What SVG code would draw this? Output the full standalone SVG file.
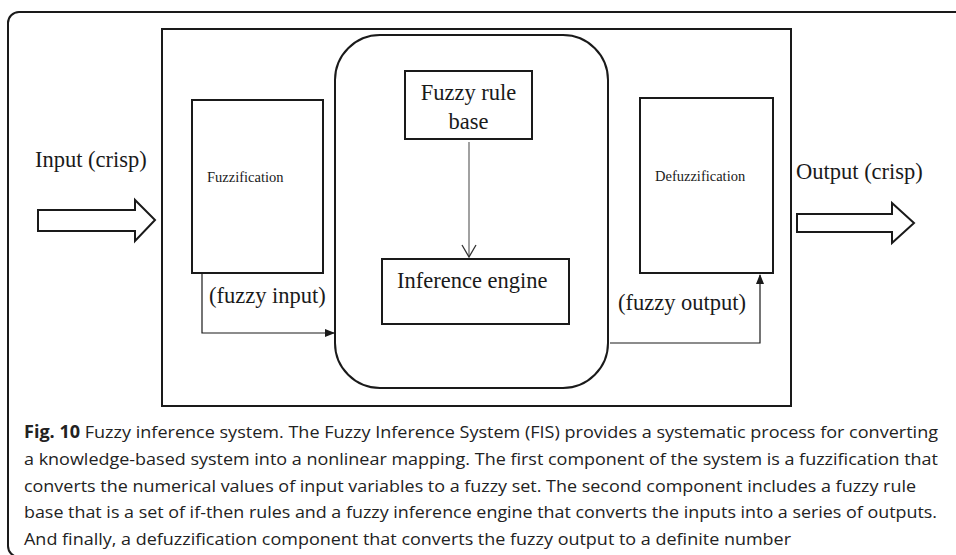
<svg xmlns="http://www.w3.org/2000/svg" width="956" height="555" viewBox="0 0 956 555">
<defs>
<style>
.box{fill:#fff;stroke:#1a1a1a;stroke-width:2}
.blk{fill:none;stroke:#1a1a1a;stroke-width:2}
.big{font-family:"Liberation Serif","Times New Roman",serif;font-size:22.5px;fill:#1a1a1a}
.small{font-family:"Liberation Serif","Times New Roman",serif;font-size:14.5px;fill:#1a1a1a}
.conn{fill:none;stroke:#1a1a1a;stroke-width:1.2}
.cap{font-family:"Open Sans","Noto Sans","Liberation Sans",sans-serif;font-size:17px;fill:#222}
</style>
<marker id="filled" markerWidth="10" markerHeight="10" refX="9" refY="5" orient="auto" markerUnits="userSpaceOnUse">
<path d="M0,1 L10,5 L0,9 Z" fill="#1a1a1a"/>
</marker>
<marker id="open" markerWidth="16" markerHeight="14" refX="8" refY="13" orient="0" markerUnits="userSpaceOnUse">
<path d="M1,1 L8,13 L15,1" fill="none" stroke="#333" stroke-width="1.3"/>
</marker>
</defs>
<rect x="8" y="12" width="970" height="545" rx="11" class="blk"/>
<rect id="system" x="162" y="29" width="629" height="377" class="box"/>
<rect id="inference-block" x="335" y="35" width="273" height="353" rx="45" class="box"/>
<g id="input-arrow">
<path d="M38,210 L135,210 L135,200 L155,220 L135,241 L135,231 L38,231 Z" class="box"/>
<text x="35" y="167" class="big">Input (crisp)</text>
</g>
<g id="output-arrow">
<path d="M797,214 L892,214 L892,203 L914,223 L892,243 L892,232 L797,232 Z" class="box"/>
<text x="796" y="179" class="big">Output (crisp)</text>
</g>
<g id="fuzzification">
<rect x="192" y="100" width="131" height="173" class="box"/>
<text x="207" y="182" class="small">Fuzzification</text>
</g>
<g id="defuzzification">
<rect x="640" y="98" width="133" height="175" class="box"/>
<text x="655" y="181" class="small">Defuzzification</text>
</g>
<g id="rule-base">
<rect x="405" y="71" width="127" height="68" class="box"/>
<text x="468.5" y="100" class="big" text-anchor="middle">Fuzzy rule</text>
<text x="468.5" y="129" class="big" text-anchor="middle">base</text>
</g>
<g id="inference-engine">
<rect x="382" y="259" width="187" height="65" class="box"/>
<text x="397" y="288" class="big">Inference engine</text>
</g>
<g id="connectors">
<line x1="469" y1="142" x2="469" y2="257" stroke="#8a8a8a" stroke-width="1.6" marker-end="url(#open)"/>
<path d="M202,273 L202,333 L334,333" class="conn" marker-end="url(#filled)"/>
<path d="M610,343 L760,343 L760,275" class="conn" marker-end="url(#filled)"/>
</g>
<text x="209" y="303" class="big">(fuzzy input)</text>
<text x="618" y="310" class="big">(fuzzy output)</text>
<g id="caption">
<text x="24" y="438" class="cap" textLength="914" lengthAdjust="spacingAndGlyphs"><tspan font-weight="bold">Fig. 10</tspan> Fuzzy inference system. The Fuzzy Inference System (FIS) provides a systematic process for converting</text>
<text x="24" y="465" class="cap" textLength="914" lengthAdjust="spacingAndGlyphs">a knowledge-based system into a nonlinear mapping. The first component of the system is a fuzzification that</text>
<text x="24" y="492" class="cap" textLength="892" lengthAdjust="spacingAndGlyphs">converts the numerical values of input variables to a fuzzy set. The second component includes a fuzzy rule</text>
<text x="24" y="518" class="cap" textLength="913" lengthAdjust="spacingAndGlyphs">base that is a set of if-then rules and a fuzzy inference engine that converts the inputs into a series of outputs.</text>
<text x="24" y="545" class="cap" textLength="767" lengthAdjust="spacingAndGlyphs">And finally, a defuzzification component that converts the fuzzy output to a definite number</text>
</g>
</svg>
